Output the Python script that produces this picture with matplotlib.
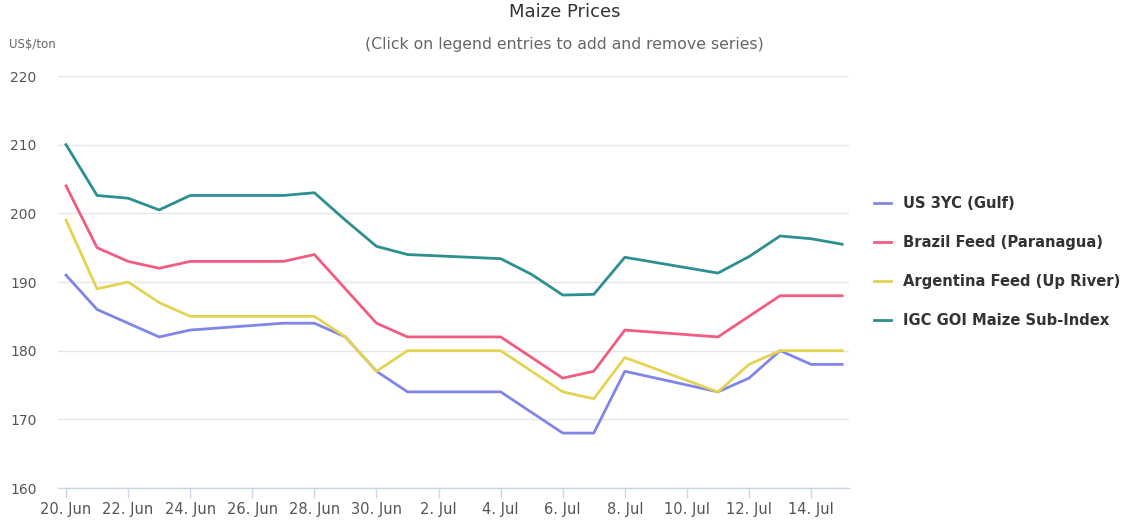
import matplotlib
matplotlib.use('Agg')
import matplotlib.pyplot as plt
import pandas as pd

# trading days shown on the chart
dates = ['2016-06-20', '2016-06-21', '2016-06-22', '2016-06-23', '2016-06-24',
         '2016-06-27', '2016-06-28', '2016-06-29', '2016-06-30', '2016-07-01',
         '2016-07-04', '2016-07-05', '2016-07-06', '2016-07-07', '2016-07-08',
         '2016-07-11', '2016-07-12', '2016-07-13', '2016-07-14', '2016-07-15']

us_gulf = [191, 186, 184, 182, 183, 184, 184, 182, 177, 174,
           174, 171, 168, 168, 177, 174, 176, 180, 178, 178]
brazil_feed = [204, 195, 193, 192, 193, 193, 194, 189, 184, 182,
               182, 179, 176, 177, 183, 182, 185, 188, 188, 188]
argentina_feed = [199, 189, 190, 187, 185, 185, 185, 182, 177, 180,
                  180, 177, 174, 173, 179, 174, 178, 180, 180, 180]
igc_goi = [210, 202.6, 202.2, 200.5, 202.6, 202.6, 203, 199, 195.2, 194,
           193.4, 191.1, 188.1, 188.2, 193.6, 191.3, 193.7, 196.7, 196.3, 195.5]

series_names = ['US 3YC (Gulf)', 'Brazil Feed (Paranagua)',
                'Argentina Feed (Up River)', 'IGC GOI Maize Sub-Index']
series_colors = ['#8085e9', '#f15c80', '#e4d354', '#2b908f']

y_ticks = [160, 170, 180, 190, 200, 210, 220]
x_tick_dates = pd.date_range('2016-06-20', '2016-07-14', freq='2D')

W, H = 1126, 526
fig = plt.figure(figsize=(W / 100, H / 100), dpi=100)
ax = fig.add_axes([58 / W, (H - 488) / H, (849 - 58) / W, (488 - 76) / H])

x = pd.to_datetime(dates)
for values, name, c in zip([us_gulf, brazil_feed, argentina_feed, igc_goi],
                           series_names, series_colors):
    ax.plot(x, values, color=c, linewidth=2, label=name, solid_joinstyle='round')

start = pd.Timestamp('2016-06-20') - pd.Timedelta(hours=6.2)
end = pd.Timestamp('2016-07-15') + pd.Timedelta(hours=5.3)
ax.set_xlim(start, end)
ax.set_ylim(160, 220)

ax.set_xticks(x_tick_dates)
ax.set_xticklabels(['{0}. {1}'.format(d.day, d.strftime('%b')) for d in x_tick_dates])
ax.set_yticks(y_ticks)
ax.set_yticklabels([str(v) for v in y_ticks], ha='left')

ax.tick_params(axis='x', length=7.2, width=1, color='#ccd6eb', labelsize=10.5,
               labelcolor='#555555', pad=3)
ax.tick_params(axis='y', length=0, labelsize=10, labelcolor='#555555', pad=34.5)

for side in ['top', 'right', 'left']:
    ax.spines[side].set_visible(False)
ax.spines['bottom'].set_color('#ccd6eb')
ax.spines['bottom'].set_linewidth(1)
ax.grid(axis='y', color='#e6e6e6', linewidth=1)
ax.set_axisbelow(True)

fig.text(565 / W, 1 - 12 / H, 'Maize Prices', ha='center', va='center',
         fontsize=13, color='#333333')
fig.text(564 / W, 1 - 45 / H, '(Click on legend entries to add and remove series)',
         ha='center', va='center', fontsize=11.3, color='#666666')
fig.text(9 / W, 1 - 44 / H, 'US$/ton', ha='left', va='center', fontsize=8.5,
         color='#666666')

leg = fig.legend(loc='center left', bbox_to_anchor=(874 / W, 1 - 262 / H),
                 frameon=False, handlelength=1.15, handletextpad=0.85,
                 labelspacing=1.62, borderpad=0, borderaxespad=0,
                 prop={'size': 10.6, 'weight': 'bold'})
for t in leg.get_texts():
    t.set_color('#333333')

fig.savefig('out.png', dpi=100)
